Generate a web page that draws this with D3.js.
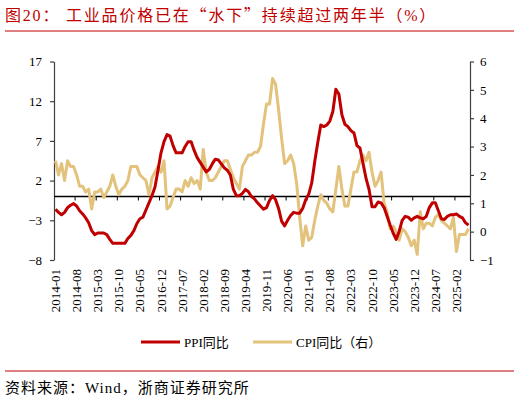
<!DOCTYPE html>
<html>
<head>
<meta charset="utf-8">
<script src="https://cdn.jsdelivr.net/npm/d3@7"></script>
<style>
  body { margin: 0; background: #fff; }
  text { font-family: "Liberation Serif", "Noto Sans CJK SC", serif; }
</style>
</head>
<body>
<svg id="chart" width="520" height="402"></svg>
<script>
// monthly, 2014-01 .. 2025-06
const startMonth = new Date(2014, 0, 1);
const ppi = [
  -1.6, -2.0, -2.3, -2.0, -1.4, -1.1, -0.9, -1.2, -1.8, -2.2, -2.7, -3.3,
  -4.3, -4.8, -4.6, -4.6, -4.6, -4.8, -5.4, -5.9, -5.9, -5.9, -5.9, -5.9,
  -5.3, -4.9, -4.3, -3.4, -2.8, -2.6, -1.7, -0.8, 0.1, 1.2, 3.3, 5.5,
  6.9, 7.8, 7.6, 6.4, 5.5, 5.5, 5.5, 6.3, 6.9, 6.9, 5.8, 4.9,
  4.3, 3.7, 3.1, 3.4, 4.1, 4.7, 4.6, 4.1, 3.6, 3.3, 2.7, 0.9,
  0.1, 0.1, 0.4, 0.9, 0.6, 0.0, -0.3, -0.8, -1.2, -1.6, -1.4, -0.5,
  0.1, -0.4, -1.5, -3.1, -3.7, -3.0, -2.4, -2.0, -2.1, -2.1, -1.5, -0.4,
  0.3, 1.7, 4.4, 6.8, 9.0, 8.8, 9.0, 9.5, 10.7, 13.5, 12.9, 10.3,
  9.1, 8.8, 8.3, 8.0, 6.4, 6.1, 4.2, 2.3, 0.9, -1.3, -1.3, -0.7,
  -0.8, -1.4, -2.5, -3.6, -4.6, -5.4, -4.4, -3.0, -2.5, -2.6, -3.0, -2.7,
  -2.5, -2.7, -2.8, -2.5, -1.4, -0.8, -0.8, -1.8, -2.8, -2.9, -2.5, -2.3,
  -2.3, -2.2, -2.5, -2.7, -3.3, -3.6
];
const cpi = [
  2.5, 2.0, 2.4, 1.8, 2.5, 2.3, 2.3, 2.0, 1.6, 1.6, 1.4, 1.5,
  0.8, 1.4, 1.4, 1.5, 1.2, 1.4, 1.6, 2.0, 1.6, 1.3, 1.5, 1.6,
  1.8, 2.3, 2.3, 2.3, 2.0, 1.9, 1.8, 1.3, 1.9, 2.1, 2.3, 2.1,
  2.5, 0.8, 0.9, 1.2, 1.5, 1.5, 1.4, 1.8, 1.6, 1.9, 1.7, 1.8,
  1.5, 2.9, 2.1, 1.8, 1.8, 1.9, 2.1, 2.3, 2.5, 2.5, 2.2, 1.9,
  1.7, 1.5, 2.3, 2.5, 2.7, 2.7, 2.8, 2.8, 3.0, 3.8, 4.5, 4.5,
  5.4, 5.2, 4.3, 3.3, 2.4, 2.5, 2.7, 2.4, 1.7, 0.5, -0.5, 0.2,
  -0.3, -0.2, 0.4, 0.9, 1.3, 1.1, 1.0, 0.8, 0.7, 1.5, 2.3, 1.5,
  0.9, 0.9, 1.5, 2.1, 2.1, 2.5, 2.7, 2.5, 2.8, 2.1, 1.6, 1.8,
  2.1, 1.0, 0.7, 0.1, 0.2, 0.0, -0.3, 0.1, 0.0, -0.2, -0.5, -0.3,
  -0.8, 0.7, 0.1, 0.3, 0.3, 0.2, 0.5, 0.6, 0.4, 0.3, 0.2, 0.1,
  0.5, -0.7, -0.1, -0.1, -0.1, 0.1
];
const leftTicks = [-8, -3, 2, 7, 12, 17];
const rightTicks = [-1, 0, 1, 2, 3, 4, 5, 6];
const labelStep = 7;

// title pieces: the curly quotes are drawn in the CJK font so they come out full width
const titleParts = [
  { t: '图20：  工业品价格已在', cjk: false },
  { t: '“', cjk: true },
  { t: '水下', cjk: false },
  { t: '”', cjk: true },
  { t: '持续超过两年半（%）', cjk: false },
];
const sourceText = '资料来源：Wind，浙商证券研究所';
const seriesNames = ['PPI同比', 'CPI同比（右）'];
const ppiColor = '#c00000';
const cpiColor = '#e3c27c';
const red = '#c00000';

const fmt = d3.timeFormat('%Y-%m');
const months = ppi.map((d, i) => fmt(d3.timeMonth.offset(startMonth, i)));

const svg = d3.select('#chart');
const plot = { left: 54, right: 470, top: 61.5, bottom: 260 };

const x = d3.scaleBand().domain(months).range([plot.left, plot.right]);
const yL = d3.scaleLinear().domain([-8, 17]).range([plot.bottom, plot.top]);
const yR = d3.scaleLinear().domain([-1, 6]).range([plot.bottom, plot.top]);
const cx = (m) => x(m) + x.bandwidth() / 2;

// title + rules
svg.append('text')
  .attr('x', 5).attr('y', 21)
  .style('font-size', '16px')
  .style('letter-spacing', '1.8px')
  .style('fill', red)
  .selectAll('tspan')
  .data(titleParts)
  .join('tspan')
  .style('font-family', (d) => (d.cjk ? '"Noto Sans CJK SC", sans-serif' : null))
  .text((d) => d.t);
svg.append('line')
  .attr('x1', 5).attr('x2', 514).attr('y1', 31).attr('y2', 31)
  .style('stroke', red).style('stroke-width', 1);
svg.append('line')
  .attr('x1', 5).attr('x2', 514).attr('y1', 371).attr('y2', 371)
  .style('stroke', red).style('stroke-width', 1);

// left axis
const axL = svg.append('g')
  .attr('transform', `translate(${plot.left},0)`)
  .call(d3.axisLeft(yL).tickValues(leftTicks).tickSize(4).tickSizeOuter(0).tickPadding(8));
// right axis
const axR = svg.append('g')
  .attr('transform', `translate(${plot.right},0)`)
  .call(d3.axisRight(yR).tickValues(rightTicks).tickFormat(d3.format('d'))
    .tickSize(4).tickSizeOuter(0).tickPadding(6));
[axL, axR].forEach((g) => {
  g.selectAll('path, line').style('stroke', '#404040').style('stroke-width', 1.2);
  g.selectAll('text').style('font-size', '13px').style('fill', '#000')
    .style('font-family', '"Liberation Serif", serif');
});

// zero line with month ticks
const y0 = yL(0);
svg.append('line')
  .attr('x1', plot.left).attr('x2', plot.right).attr('y1', y0).attr('y2', y0)
  .style('stroke', '#000').style('stroke-width', 1.3);
const tickMonths = months.filter((d, i) => i > 0 && i % labelStep === 0);
svg.append('g').selectAll('line')
  .data(tickMonths)
  .join('line')
  .attr('x1', (d) => x(d)).attr('x2', (d) => x(d))
  .attr('y1', y0).attr('y2', y0 + 4)
  .style('stroke', '#000').style('stroke-width', 1);

// x labels
const labelMonths = months.filter((d, i) => i % labelStep === 0);
svg.append('g').selectAll('text')
  .data(labelMonths)
  .join('text')
  .attr('transform', (d) => `translate(${cx(d) + 4.5},269) rotate(-90)`)
  .attr('text-anchor', 'end')
  .style('font-size', '13px')
  .text((d) => d);

// lines
const lineL = d3.line().x((d, i) => cx(months[i])).y((d) => yL(d));
const lineR = d3.line().x((d, i) => cx(months[i])).y((d) => yR(d));
svg.append('path').datum(cpi)
  .attr('d', lineR)
  .style('fill', 'none').style('stroke', cpiColor).style('stroke-width', 3)
  .style('stroke-linejoin', 'round');
svg.append('path').datum(ppi)
  .attr('d', lineL)
  .style('fill', 'none').style('stroke', ppiColor).style('stroke-width', 3)
  .style('stroke-linejoin', 'round');

// legend
const legendItems = [
  { name: seriesNames[0], color: ppiColor, x: 141 },
  { name: seriesNames[1], color: cpiColor, x: 253 },
];
const lg = svg.append('g').selectAll('g')
  .data(legendItems)
  .join('g')
  .attr('transform', (d) => `translate(${d.x},342)`);
lg.append('line')
  .attr('x1', 0).attr('x2', 39).attr('y1', 0).attr('y2', 0)
  .style('stroke', (d) => d.color).style('stroke-width', 3);
lg.append('text')
  .attr('x', 43).attr('y', 4.5)
  .style('font-size', '13px')
  .text((d) => d.name);

// source
svg.append('text')
  .attr('x', 5).attr('y', 393)
  .style('font-size', '15px')
  .style('letter-spacing', '1px')
  .text(sourceText);
</script>
</body>
</html>
